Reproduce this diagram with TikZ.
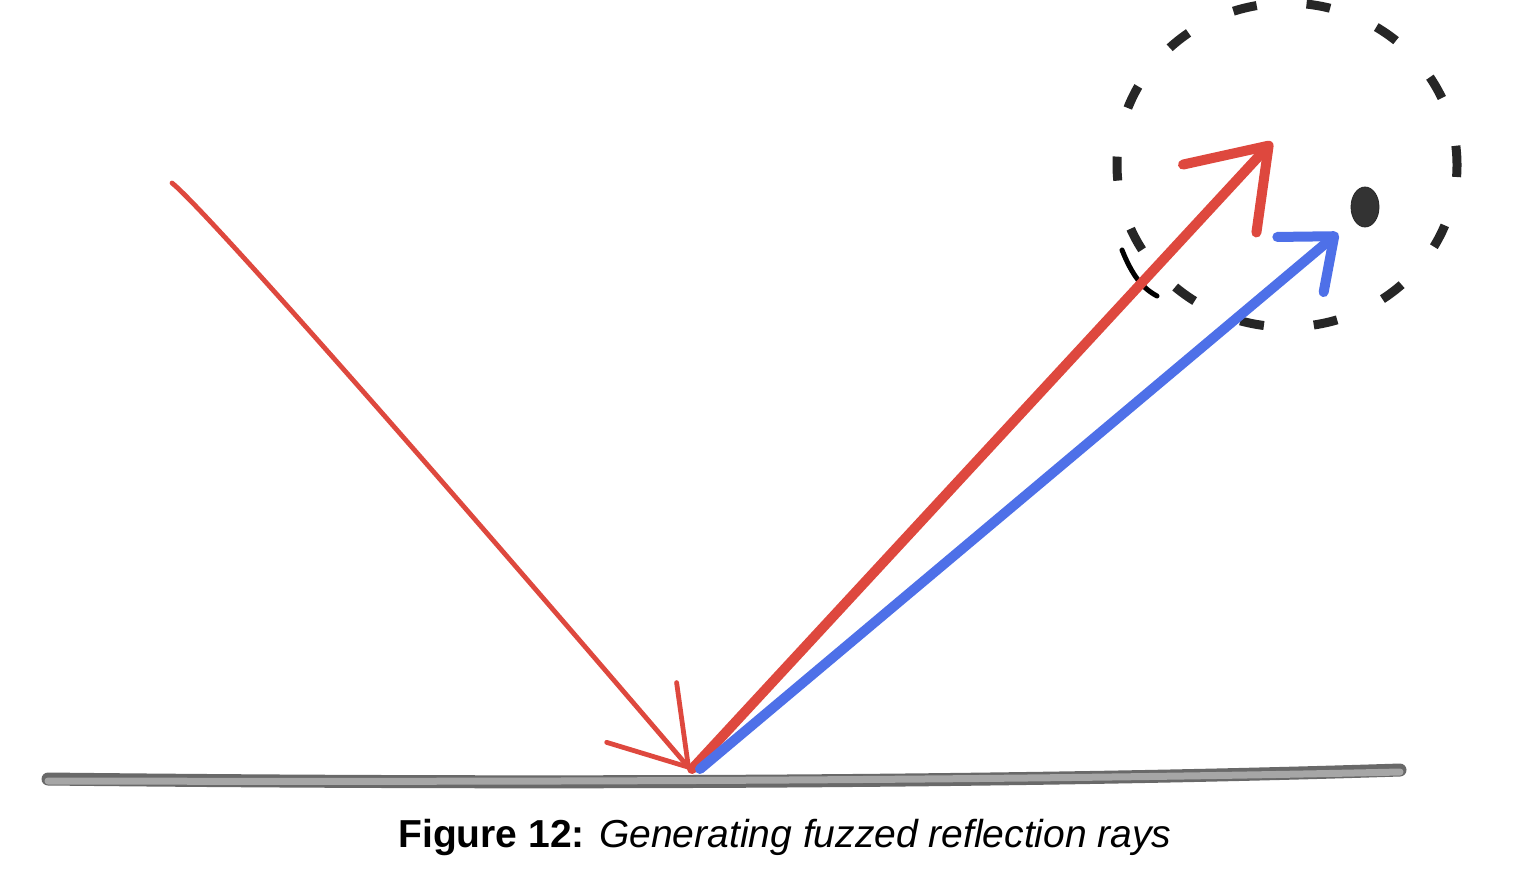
\documentclass[tikz,border=0pt]{standalone}
\usepackage{fontspec}
\setmainfont{Liberation Sans}
\usepackage{tikz}
\usetikzlibrary{arrows.meta, shapes.geometric}
\definecolor{rayred}{RGB}{222,72,62}
\definecolor{rayblue}{RGB}{78,112,232}
\definecolor{ground}{RGB}{150,150,150}
\tikzstyle{incident} = [draw=rayred, line width=2.4pt, line cap=round, -{Straight Barb[length=36pt, width=46pt, line cap=round, line join=round]}]
\tikzstyle{reflect} = [draw=rayred, line width=5pt, line cap=round, -{Straight Barb[length=36pt, width=50pt, line cap=round, line join=round]}]
\tikzstyle{fuzzed} = [draw=rayblue, line width=5pt, line cap=round, -{Straight Barb[length=22pt, width=36pt, line cap=round, line join=round]}]
\tikzstyle{sphere} = [draw=black!85, line width=4.5pt, dash pattern=on 12pt off 25pt, dash phase=6pt]

\begin{document}
\begin{tikzpicture}[x=0.5pt, y=-0.5pt]
    \useasboundingbox (0,0) rectangle (1524,878);

    % points
    \coordinate (src) at (172,183);
    \coordinate (hit) at (690,769);
    \coordinate (tipr) at (1272,142);
    \coordinate (tipb) at (1338,233);
    \coordinate (gl) at (48,779);
    \coordinate (gr) at (1400,770);
    \coordinate (ctr) at (1287,165);

    % surface
    \draw [ground!70!black, line width=6.5pt, line cap=round] (gl) .. controls (500,784) and (1000,783) .. (gr);
    \draw [ground!85, line width=3.5pt, line cap=round] ([yshift=-1pt]gl) .. controls (500,782) and (1000,781) .. ([yshift=-1pt]gr);

    % fuzz sphere
    \draw [sphere] (ctr) ellipse [x radius=170, y radius=162];
    \draw [black, line width=2.5pt, line cap=round] (1122,250) .. controls (1132,275) and (1142,288) .. (1157,296);
    \node (pt) [draw=black!85, fill=black!80, ellipse, inner sep=0pt, minimum width=14pt, minimum height=20pt] at (1365,207) {};

    % rays
    \draw [incident] (src) .. controls (200,205) and (400,430) .. (hit);
    \draw [reflect] ([xshift=1pt]hit) -- (tipr);
    \draw [fuzzed] ([xshift=5pt]hit) -- (tipb);

    \node (cap) at (785,837) {\fontsize{19.5}{23}\selectfont\textbf{Figure 12:} \textit{Generating fuzzed reflection rays}};
\end{tikzpicture}
\end{document}
